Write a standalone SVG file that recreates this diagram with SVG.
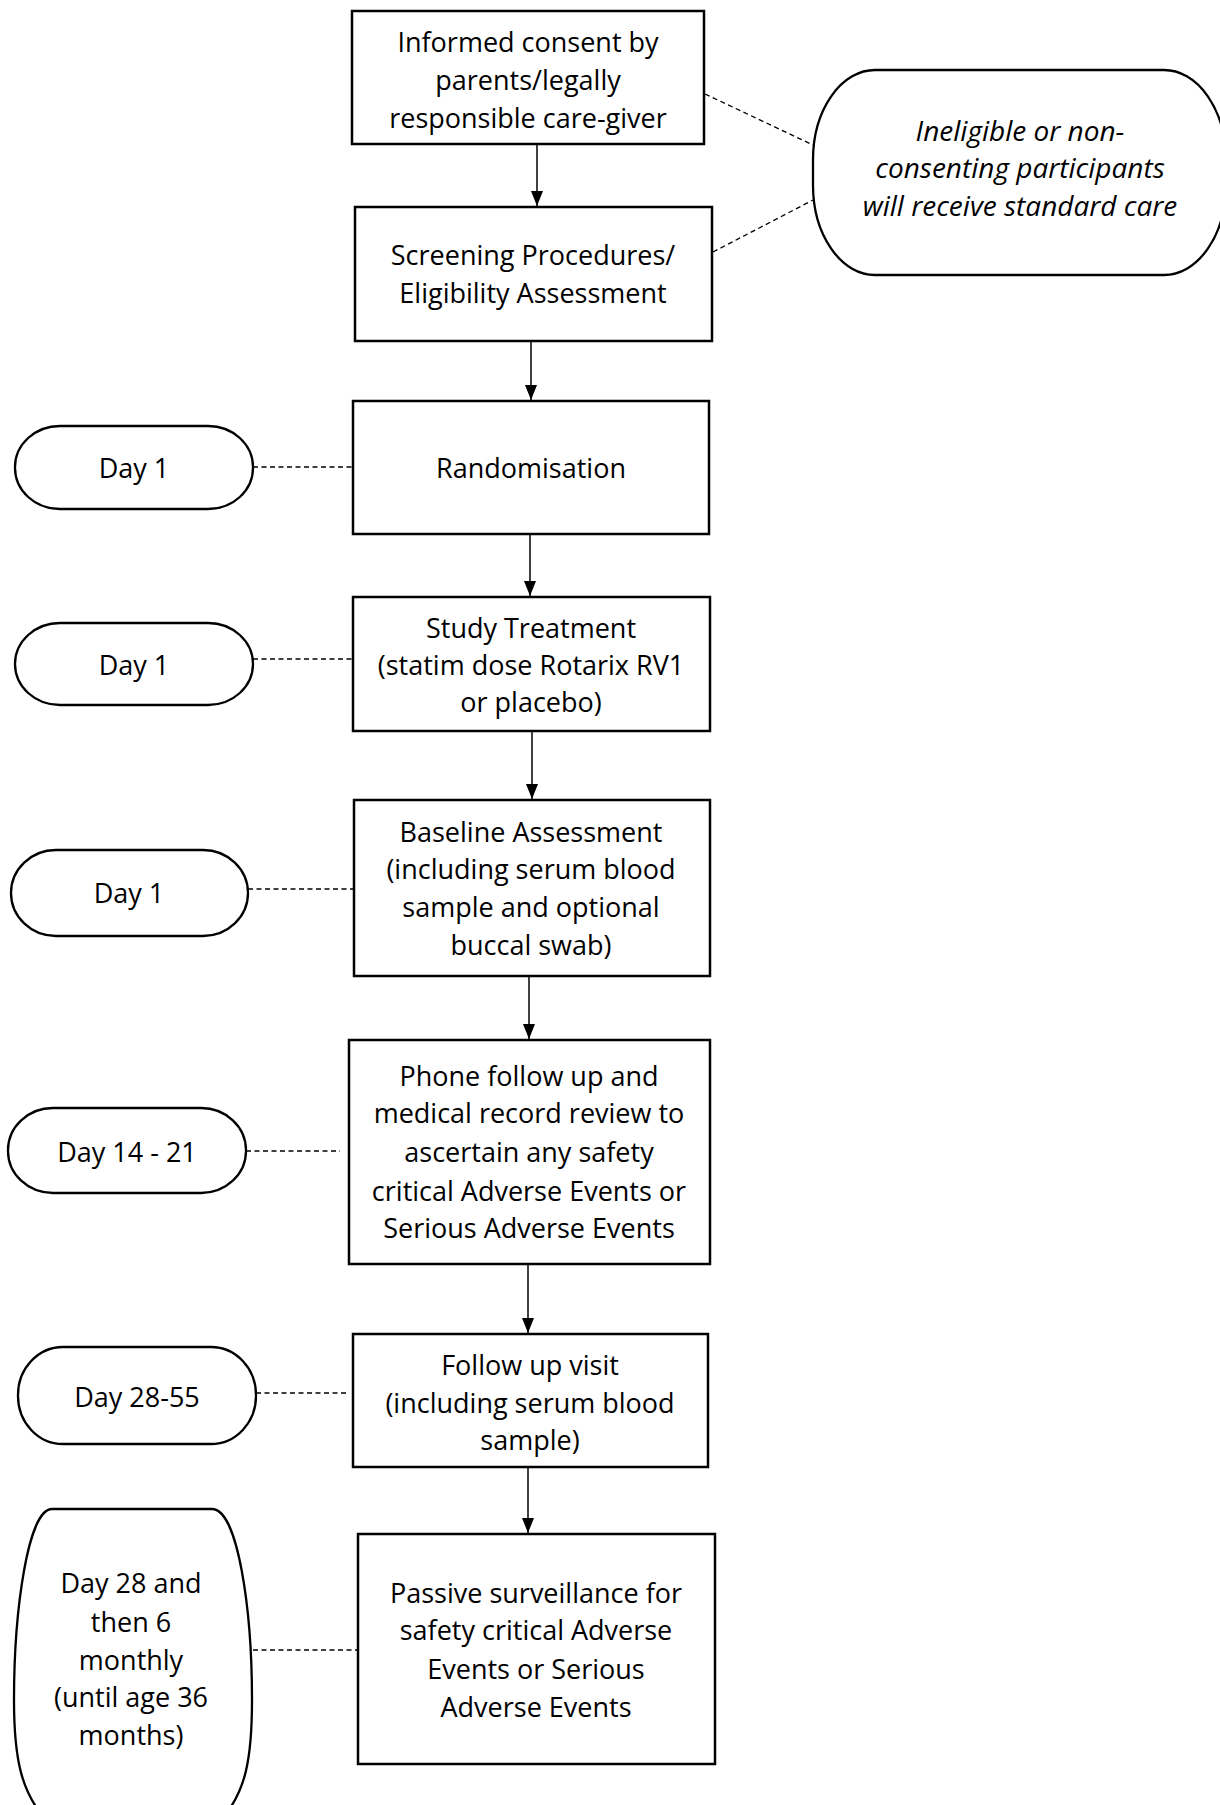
<svg xmlns="http://www.w3.org/2000/svg" width="1220" height="1805" viewBox="0 0 1220 1805">
<style>
.box{fill:#fff;stroke:#000;stroke-width:2.5}
.pill{fill:#fff;stroke:#000;stroke-width:2.3}
.t{font-family:"Open Sans","Liberation Sans",sans-serif;font-size:27px;fill:#000;text-anchor:middle}
.it{font-style:italic;font-size:28px}
.dash{stroke:#000;stroke-width:1.3;stroke-dasharray:5 3.5;fill:none}
.arr{stroke:#000;stroke-width:1.5;fill:none;marker-end:url(#ah)}
</style>
<defs>
<marker id="ah" viewBox="0 0 15 12" refX="15" refY="6" markerWidth="15" markerHeight="12" markerUnits="userSpaceOnUse" orient="auto">
<path d="M0,0 L15,6 L0,12 z" fill="#000"/>
</marker>
</defs>
<rect width="1220" height="1805" fill="#fff"/>

<g id="connectors">
<line class="arr" x1="537" y1="144" x2="537" y2="206"/>
<line class="arr" x1="531" y1="341" x2="531" y2="400"/>
<line class="arr" x1="530" y1="534" x2="530" y2="596"/>
<line class="arr" x1="532" y1="731" x2="532" y2="799"/>
<line class="arr" x1="529" y1="976" x2="529" y2="1039"/>
<line class="arr" x1="528" y1="1264" x2="528" y2="1333"/>
<line class="arr" x1="528" y1="1467" x2="528" y2="1533"/>
<line class="dash" x1="705" y1="94" x2="813" y2="145"/>
<line class="dash" x1="713" y1="252" x2="813" y2="200"/>
<line class="dash" x1="253" y1="467" x2="353" y2="467"/>
<line class="dash" x1="253" y1="659" x2="353" y2="659"/>
<line class="dash" x1="248" y1="889" x2="354" y2="889"/>
<line class="dash" x1="246" y1="1151" x2="340" y2="1151"/>
<line class="dash" x1="256" y1="1393" x2="346" y2="1393"/>
<line class="dash" x1="253" y1="1650" x2="358" y2="1650"/>
</g>

<g id="consent">
<rect class="box" x="352" y="11" width="352" height="133"/>
<text class="t" x="528" y="52">Informed consent by</text>
<text class="t" x="528" y="90">parents/legally</text>
<text class="t" x="528" y="128">responsible care-giver</text>
</g>

<g id="screening">
<rect class="box" x="355" y="207" width="357" height="134"/>
<text class="t" x="533" y="265">Screening Procedures/</text>
<text class="t" x="533" y="303">Eligibility Assessment</text>
</g>

<g id="ineligible">
<rect class="pill" x="813" y="70" width="413" height="205" rx="62" ry="90"/>
<text class="t it" x="1020" y="141">Ineligible or non-</text>
<text class="t it" x="1020" y="178">consenting participants</text>
<text class="t it" x="1020" y="216">will receive standard care</text>
</g>

<g id="randomisation">
<rect class="box" x="353" y="401" width="356" height="133"/>
<text class="t" x="531" y="478">Randomisation</text>
</g>

<g id="treatment">
<rect class="box" x="353" y="597" width="357" height="134"/>
<text class="t" x="531" y="638">Study Treatment</text>
<text class="t" x="531" y="675">(statim dose Rotarix RV1</text>
<text class="t" x="531" y="712">or placebo)</text>
</g>

<g id="baseline">
<rect class="box" x="354" y="800" width="356" height="176"/>
<text class="t" x="531" y="842">Baseline Assessment</text>
<text class="t" x="531" y="879">(including serum blood</text>
<text class="t" x="531" y="917">sample and optional</text>
<text class="t" x="531" y="955">buccal swab)</text>
</g>

<g id="phone">
<rect class="box" x="349" y="1040" width="361" height="224"/>
<text class="t" x="529" y="1086">Phone follow up and</text>
<text class="t" x="529" y="1123">medical record review to</text>
<text class="t" x="529" y="1162">ascertain any safety</text>
<text class="t" x="529" y="1201">critical Adverse Events or</text>
<text class="t" x="529" y="1238">Serious Adverse Events</text>
</g>

<g id="followup">
<rect class="box" x="353" y="1334" width="355" height="133"/>
<text class="t" x="530" y="1375">Follow up visit</text>
<text class="t" x="530" y="1413">(including serum blood</text>
<text class="t" x="530" y="1450">sample)</text>
</g>

<g id="passive">
<rect class="box" x="358" y="1534" width="357" height="230"/>
<text class="t" x="536" y="1603">Passive surveillance for</text>
<text class="t" x="536" y="1640">safety critical Adverse</text>
<text class="t" x="536" y="1679">Events or Serious</text>
<text class="t" x="536" y="1717">Adverse Events</text>
</g>

<g id="day1a">
<rect class="pill" x="15" y="426" width="238" height="83" rx="45" ry="41"/>
<text class="t" x="134" y="478">Day 1</text>
</g>
<g id="day1b">
<rect class="pill" x="15" y="623" width="238" height="82" rx="45" ry="41"/>
<text class="t" x="134" y="675">Day 1</text>
</g>
<g id="day1c">
<rect class="pill" x="11" y="850" width="237" height="86" rx="45" ry="43"/>
<text class="t" x="129" y="903">Day 1</text>
</g>
<g id="day14">
<rect class="pill" x="8" y="1108" width="238" height="85" rx="45" ry="42"/>
<text class="t" x="127" y="1162">Day 14 - 21</text>
</g>
<g id="day28">
<rect class="pill" x="18" y="1347" width="238" height="97" rx="45" ry="48"/>
<text class="t" x="137" y="1407">Day 28-55</text>
</g>
<g id="day28monthly">
<path class="pill" d="M52 1509 H212 C238 1509 252 1610 252 1700 C252 1760 245 1790 225 1815 L42 1815 C22 1790 14 1760 14 1700 C14 1610 28 1509 52 1509 Z"/>
<text class="t" x="131" y="1593">Day 28 and</text>
<text class="t" x="131" y="1632">then 6</text>
<text class="t" x="131" y="1670">monthly</text>
<text class="t" x="131" y="1707">(until age 36</text>
<text class="t" x="131" y="1745">months)</text>
</g>
</svg>
